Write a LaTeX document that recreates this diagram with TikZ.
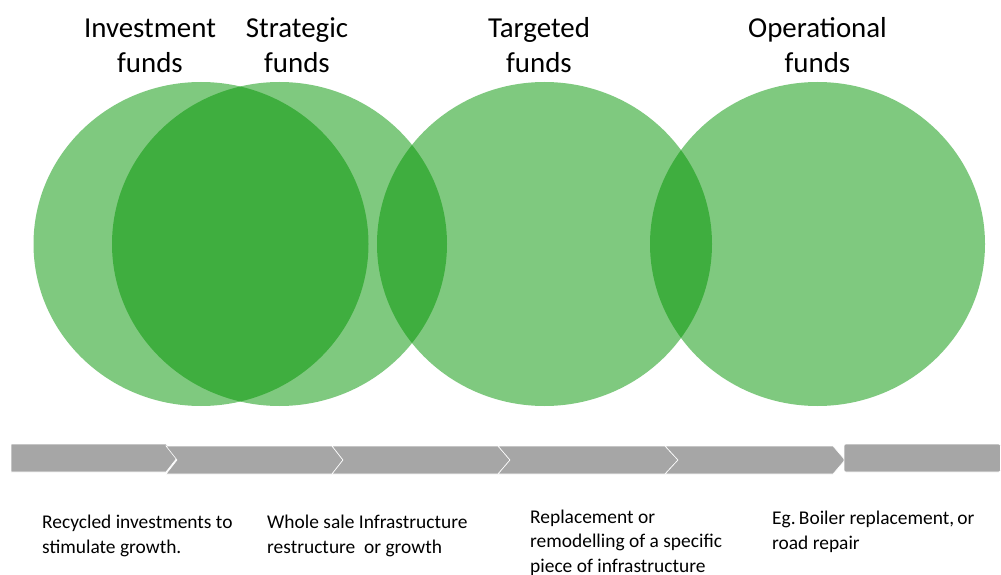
\documentclass[tikz,border=0pt]{standalone}
\usepackage{fontspec}
\setmainfont{Carlito}
\frenchspacing
\definecolor{circgreen}{RGB}{0,148,0}
\definecolor{chevgrey}{RGB}{166,166,166}
\begin{document}
\begin{tikzpicture}[x=1bp,y=-1bp,
  fund/.style={fill=circgreen,fill opacity=0.5,draw=none},
  chev/.style={fill=chevgrey,draw=white,line width=0.6bp},
  title/.style={inner sep=0pt,align=center,font=\fontsize{29}{35.5}\selectfont},
  desc/.style={inner sep=0pt,align=left,anchor=base west,font=\fontsize{19.5}{24.5}\selectfont}]
\useasboundingbox (0,0) rectangle (1001,575);
% circles
\fill[fund] (201,244) ellipse [x radius=167.5,y radius=162];
\fill[fund] (279.5,244) ellipse [x radius=167.5,y radius=162];
\fill[fund] (544.5,244) ellipse [x radius=167.5,y radius=162];
\fill[fund] (817.5,244) ellipse [x radius=167.5,y radius=162];
% chevrons
\filldraw[chev] (11,444) -- (166,444) -- (177,458) -- (166,472) -- (11,472) -- cycle;
\filldraw[chev] (166,446) -- (332,446) -- (343,460) -- (332,474) -- (166,474) -- (177,460) -- cycle;
\filldraw[chev] (332,446) -- (498,446) -- (510,460) -- (498,474) -- (332,474) -- (343,460) -- cycle;
\filldraw[chev] (498,446) -- (665,446) -- (678,460) -- (665,474) -- (498,474) -- (510,460) -- cycle;
\filldraw[chev] (665,446) -- (833,446) -- (845,460) -- (833,474) -- (665,474) -- (678,460) -- cycle;
\filldraw[chev,rounded corners=2bp] (844,444) -- (1000.5,444) -- (1000.5,472) -- (844,472) -- cycle;
% titles (anchor base = last line)
\node[title,anchor=base] (t1) at (150,72.5) {Investment\\funds};
\node[title,anchor=base] (t2) at (297,72.5) {Strategic\\funds};
\node[title,anchor=base] (t3) at (539,72.5) {Targeted\\funds};
\node[title,anchor=base] (t4) at (817.5,72.5) {Operational\\funds};
% descriptions (anchor base = last line)
\node[desc] (d1) at (42,553) {Recycled investments to\\stimulate growth.};
\node[desc] (d2) at (267,553) {Whole sale Infrastructure\\restructure\ \ or growth};
\node[desc] (d3) at (530,572) {Replacement or\\remodelling of a specific\\piece of infrastructure};
\node[desc] (d4) at (772,549) {Eg.\,Boiler replacement,\,or\\road repair};
\end{tikzpicture}
\end{document}
